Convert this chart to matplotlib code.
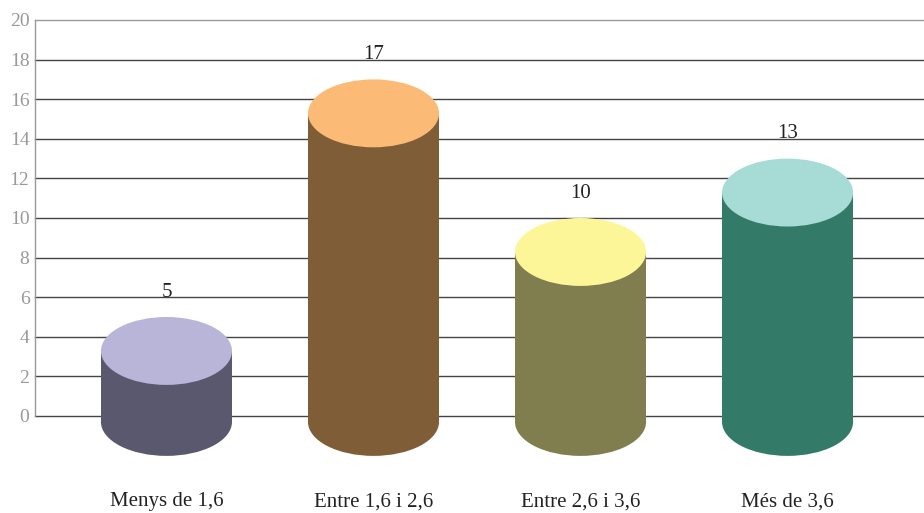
import numpy as np
import matplotlib.pyplot as plt
from matplotlib.patches import Ellipse, Rectangle

categories = ['Menys de 1,6', 'Entre 1,6 i 2,6', 'Entre 2,6 i 3,6', 'Més de 3,6']
values = [5, 17, 10, 13]
top_colors = ['#b9b5d9', '#fbbb77', '#fdf699', '#a7dbd6']
side_colors = ['#5a586f', '#7e5d37', '#807d4e', '#347a68']
yticks = np.arange(0, 21, 2)

plt.rcParams['font.family'] = ['Liberation Serif', 'DejaVu Serif']

fig = plt.figure(figsize=(9.24, 5.13), dpi=100)
# axes from x=35..924 px, y=20..416 px
ax = fig.add_axes([35 / 924, 1 - 416 / 513, 889 / 924, 396 / 513])

x = np.arange(len(categories))
ax.set_xlim(-0.635, 3.659)
ax.set_ylim(0, 20)

bar_w = 0.633      # cylinder width in category units
ell_h = 3.43       # ellipse height in value units
base = -0.3        # centre of the bottom ellipse

for v in yticks:
    ax.axhline(v, color='#444444' if v < 20 else '#999999', lw=1, zorder=1, clip_on=False)

for xi, v, tc, sc in zip(x, values, top_colors, side_colors):
    top = v - ell_h / 2
    ax.add_patch(Ellipse((xi, base), bar_w, ell_h, color=sc, lw=0, zorder=3, clip_on=False))
    ax.add_patch(Rectangle((xi - bar_w / 2, base), bar_w, top - base, color=sc, lw=0,
                           zorder=3, clip_on=False))
    ax.add_patch(Ellipse((xi, top), bar_w, ell_h, color=tc, lw=0, zorder=4, clip_on=False))
    ax.annotate(str(v), (xi, v), xytext=(0, 11), textcoords='offset points',
                ha='center', va='bottom', fontsize=15, color='#222222')

ax.set_xticks(x)
ax.set_xticklabels(categories, fontsize=15, color='#222222')
ax.tick_params(axis='x', length=0, pad=55)
ax.set_yticks(yticks)
ax.set_yticklabels([str(t) for t in yticks], fontsize=14, color='#999999')
ax.tick_params(axis='y', length=0, pad=4)

for s in ['top', 'right', 'bottom']:
    ax.spines[s].set_visible(False)
ax.spines['left'].set_color('#999999')
ax.spines['left'].set_linewidth(1)

fig.savefig('out.png', dpi=100)
